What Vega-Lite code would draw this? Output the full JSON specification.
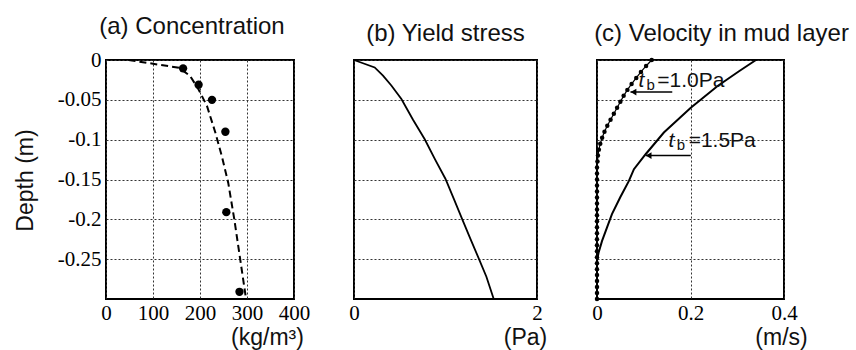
{
  "$schema": "https://vega.github.io/schema/vega-lite/v6.json",
  "padding": {"left": 12, "top": 14, "right": 0, "bottom": 0},
  "background": "white",
  "datasets": {
    "conc_line": [
      {"v": 48, "depth": 0}, {"v": 155, "depth": -0.0097}, {"v": 179, "depth": -0.02},
      {"v": 197, "depth": -0.037}, {"v": 215, "depth": -0.058}, {"v": 232.6, "depth": -0.091},
      {"v": 247, "depth": -0.122}, {"v": 260, "depth": -0.154}, {"v": 273, "depth": -0.2},
      {"v": 285.5, "depth": -0.25}, {"v": 298, "depth": -0.3}
    ],
    "conc_pts": [
      {"v": 164, "depth": -0.0105}, {"v": 197, "depth": -0.031}, {"v": 225.5, "depth": -0.05},
      {"v": 254, "depth": -0.09}, {"v": 256, "depth": -0.191}, {"v": 284, "depth": -0.291}
    ],
    "yield": [
      {"v": 0, "depth": 0}, {"v": 0.226, "depth": -0.0093}, {"v": 0.317, "depth": -0.0197},
      {"v": 0.408, "depth": -0.032}, {"v": 0.518, "depth": -0.049}, {"v": 0.645, "depth": -0.075},
      {"v": 0.773, "depth": -0.0995}, {"v": 0.887, "depth": -0.125}, {"v": 0.999, "depth": -0.149},
      {"v": 1.09, "depth": -0.174}, {"v": 1.18, "depth": -0.199}, {"v": 1.27, "depth": -0.224},
      {"v": 1.363, "depth": -0.249}, {"v": 1.447, "depth": -0.272}, {"v": 1.527, "depth": -0.3}
    ],
    "vel15": [
      {"v": 0.34, "depth": 0}, {"v": 0.3045, "depth": -0.0138}, {"v": 0.258, "depth": -0.0326},
      {"v": 0.2006, "depth": -0.0598}, {"v": 0.143, "depth": -0.091}, {"v": 0.104, "depth": -0.1183},
      {"v": 0.079, "depth": -0.137}, {"v": 0.068, "depth": -0.152}, {"v": 0.05, "depth": -0.172},
      {"v": 0.032, "depth": -0.1935}, {"v": 0.0215, "depth": -0.21}, {"v": 0.0108, "depth": -0.227},
      {"v": 0.0035, "depth": -0.2415}, {"v": 0, "depth": -0.252}, {"v": 0, "depth": -0.3}
    ],
    "vel10": [
      {"v": 0.117, "depth": 0}, {"v": 0.105, "depth": -0.0075}, {"v": 0.094, "depth": -0.015},
      {"v": 0.084, "depth": -0.0225}, {"v": 0.074, "depth": -0.03}, {"v": 0.065, "depth": -0.0375},
      {"v": 0.057, "depth": -0.045}, {"v": 0.05, "depth": -0.0525}, {"v": 0.043, "depth": -0.06},
      {"v": 0.036, "depth": -0.0675}, {"v": 0.029, "depth": -0.075}, {"v": 0.022, "depth": -0.0825},
      {"v": 0.016, "depth": -0.09}, {"v": 0.011, "depth": -0.0975}, {"v": 0.007, "depth": -0.105},
      {"v": 0.004, "depth": -0.1125}, {"v": 0.002, "depth": -0.12}, {"v": 0.001, "depth": -0.1275},
      {"v": 0, "depth": -0.135}, {"v": 0, "depth": -0.1425}, {"v": 0, "depth": -0.15},
      {"v": 0, "depth": -0.1575}, {"v": 0, "depth": -0.165}, {"v": 0, "depth": -0.1725},
      {"v": 0, "depth": -0.18}, {"v": 0, "depth": -0.1875}, {"v": 0, "depth": -0.195},
      {"v": 0, "depth": -0.2025}, {"v": 0, "depth": -0.21}, {"v": 0, "depth": -0.2175},
      {"v": 0, "depth": -0.225}, {"v": 0, "depth": -0.2325}, {"v": 0, "depth": -0.24},
      {"v": 0, "depth": -0.2475}, {"v": 0, "depth": -0.255}, {"v": 0, "depth": -0.2625},
      {"v": 0, "depth": -0.27}, {"v": 0, "depth": -0.2775}, {"v": 0, "depth": -0.285},
      {"v": 0, "depth": -0.2925}, {"v": 0, "depth": -0.3}
    ],
    "arrows": [
      {"v": 0.0716, "v2": 0.161, "depth": -0.0402},
      {"v": 0.104, "v2": 0.2006, "depth": -0.12}
    ],
    "notes": [
      {"v": 0.089, "depth": -0.0339, "label": "t", "part": "t"},
      {"v": 0.106, "depth": -0.0373, "label": "b", "part": "b"},
      {"v": 0.129, "depth": -0.0339, "label": "=1.0Pa", "part": "eq"},
      {"v": 0.153, "depth": -0.1088, "label": "t", "part": "t"},
      {"v": 0.1705, "depth": -0.1126, "label": "b", "part": "b"},
      {"v": 0.196, "depth": -0.1088, "label": "=1.5Pa", "part": "eq"}
    ]
  },
  "spacing": 60,
  "bounds": "flush",
  "hconcat": [
    {
      "width": 188,
      "height": 239,
      "title": {"text": "(a) Concentration", "dx": -8},
      "encoding": {
        "x": {"field": "v", "type": "quantitative",
          "scale": {"domain": [0, 400], "nice": false, "zero": false},
          "axis": {"values": [0, 100, 200, 300, 400], "format": "d", "title": "(kg/m³)", "titleX": 161, "titleY": 45, "titleAlign": "center", "titleBaseline": "alphabetic"}},
        "y": {"field": "depth", "type": "quantitative",
          "scale": {"domain": [-0.3, 0], "nice": false, "zero": false},
          "axis": {"values": [0, -0.05, -0.1, -0.15, -0.2, -0.25],
            "labelExpr": "datum.value == 0 ? '0' : '-' + format(-datum.value, '.2~f')",
            "title": "Depth (m)", "titleX": -81, "titleY": 120, "titleAlign": "center", "titleBaseline": "middle"}}
      },
      "layer": [
        {"data": {"name": "conc_line"},
          "mark": {"type": "line", "color": "black", "strokeWidth": 2, "strokeDash": [7, 4]},
          "encoding": {"order": {"field": "depth", "sort": "descending"}}},
        {"data": {"name": "conc_pts"},
          "mark": {"type": "point", "filled": true, "color": "black", "size": 70, "opacity": 1}}
      ]
    },
    {
      "width": 183,
      "height": 239,
      "title": {"text": "(b) Yield stress", "dx": 0},
      "data": {"name": "yield"},
      "mark": {"type": "line", "color": "black", "strokeWidth": 1.8},
      "encoding": {
        "x": {"field": "v", "type": "quantitative",
          "scale": {"domain": [0, 2], "nice": false, "zero": false},
          "axis": {"values": [0, 1, 2], "format": "d", "title": "(Pa)", "titleX": 171, "titleY": 45, "titleAlign": "center", "titleBaseline": "alphabetic"}},
        "y": {"field": "depth", "type": "quantitative",
          "scale": {"domain": [-0.3, 0], "nice": false, "zero": false},
          "axis": {"values": [0, -0.05, -0.1, -0.15, -0.2, -0.25], "labels": false, "title": null}},
        "order": {"field": "depth", "sort": "descending"}
      }
    },
    {
      "width": 187,
      "height": 239,
      "title": {"text": "(c) Velocity in mud layer", "dx": 31},
      "encoding": {
        "x": {"field": "v", "type": "quantitative",
          "scale": {"domain": [0, 0.4], "nice": false, "zero": false},
          "axis": {"values": [0, 0.2, 0.4], "labelExpr": "datum.value == 0 ? '0' : format(datum.value, '.1f')", "title": "(m/s)", "titleX": 184, "titleY": 45, "titleAlign": "center", "titleBaseline": "alphabetic"}},
        "y": {"field": "depth", "type": "quantitative",
          "scale": {"domain": [-0.3, 0], "nice": false, "zero": false},
          "axis": {"values": [0, -0.05, -0.1, -0.15, -0.2, -0.25], "labels": false, "title": null}}
      },
      "layer": [
        {"data": {"name": "vel15"},
          "mark": {"type": "line", "color": "black", "strokeWidth": 2},
          "encoding": {"order": {"field": "depth", "sort": "descending"}}},
        {"data": {"name": "vel10"},
          "mark": {"type": "line", "color": "black", "strokeWidth": 1.2, "point": {"filled": true, "color": "black", "size": 20, "opacity": 1}},
          "encoding": {"order": {"field": "depth", "sort": "descending"}}},
        {"data": {"name": "arrows"},
          "mark": {"type": "rule", "color": "black", "strokeWidth": 1.5},
          "encoding": {"x2": {"field": "v2"}}},
        {"data": {"name": "arrows"},
          "mark": {"type": "point", "shape": "triangle-left", "filled": true, "color": "black", "size": 45, "opacity": 1, "xOffset": 3}},
        {"data": {"name": "notes"},
          "transform": [{"filter": "datum.part == 't'"}],
          "mark": {"type": "text", "align": "left", "baseline": "alphabetic", "font": "Liberation Sans", "fontSize": 21, "fontStyle": "italic", "color": "#111"},
          "encoding": {"text": {"field": "label"}}},
        {"data": {"name": "notes"},
          "transform": [{"filter": "datum.part == 'b'"}],
          "mark": {"type": "text", "align": "left", "baseline": "alphabetic", "font": "Liberation Sans", "fontSize": 15, "color": "#111"},
          "encoding": {"text": {"field": "label"}}},
        {"data": {"name": "notes"},
          "transform": [{"filter": "datum.part == 'eq'"}],
          "mark": {"type": "text", "align": "left", "baseline": "alphabetic", "font": "Liberation Sans", "fontSize": 21, "color": "#111"},
          "encoding": {"text": {"field": "label"}}}
      ]
    }
  ],
  "config": {
    "view": {"stroke": "black", "strokeWidth": 2},
    "axis": {
      "grid": true, "gridDash": [2, 2], "gridColor": "#333", "gridWidth": 1, "gridOpacity": 1,
      "domain": false, "ticks": false, "labelOverlap": false, "labelFlush": false,
      "labelFont": "Liberation Serif, Times New Roman, serif", "labelFontSize": 21, "labelColor": "black", "labelPadding": 3,
      "titleFont": "Liberation Sans", "titleFontSize": 23, "titleFontWeight": "normal", "titleColor": "#111"
    },
    "axisY": {"labelPadding": 5},
    "title": {"font": "Liberation Sans", "fontSize": 24, "fontWeight": "normal", "color": "#111", "anchor": "middle", "frame": "group", "baseline": "alphabetic", "offset": 10}
  }
}
